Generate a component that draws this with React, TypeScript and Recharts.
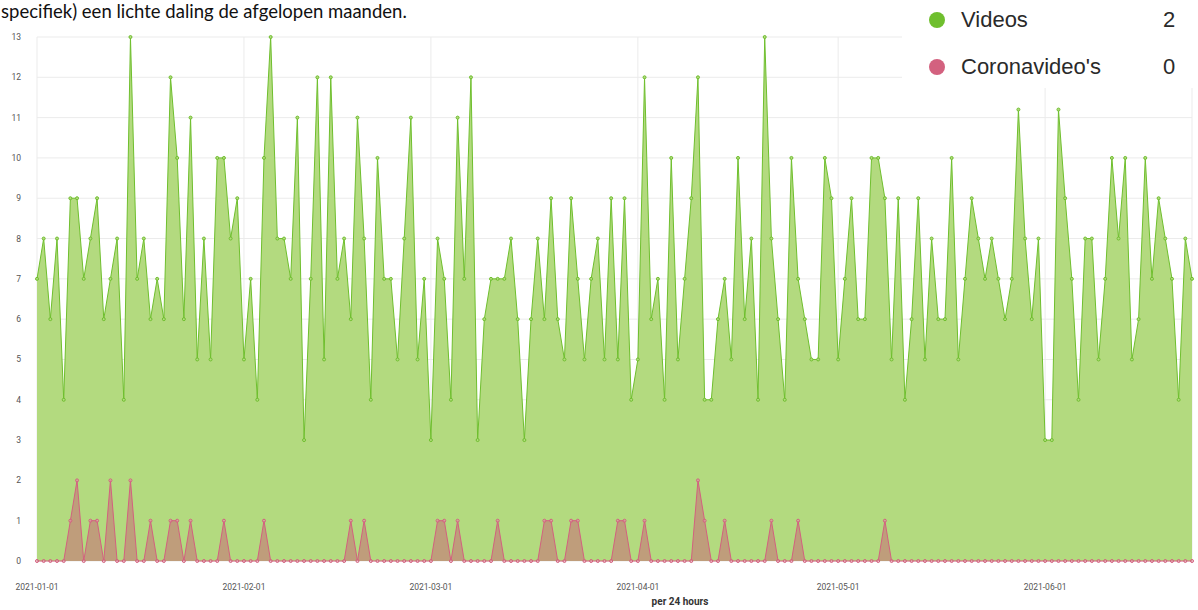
import React from "react";
import { AreaChart, Area, XAxis, YAxis, CartesianGrid } from "recharts";

// dagelijkse aantallen vanaf 2021-01-01
const videos = [
  7, 8, 6, 8, 4, 9, 9, 7, 8, 9,
  6, 7, 8, 4, 13, 7, 8, 6, 7, 6,
  12, 10, 6, 11, 5, 8, 5, 10, 10, 8,
  9, 5, 7, 4, 10, 13, 8, 8, 7, 11,
  3, 7, 12, 5, 12, 7, 8, 6, 11, 8,
  4, 10, 7, 7, 5, 8, 11, 5, 7, 3,
  8, 7, 4, 11, 7, 12, 3, 6, 7, 7,
  7, 8, 6, 3, 6, 8, 6, 9, 6, 5,
  9, 7, 5, 7, 8, 5, 9, 5, 9, 4,
  5, 12, 6, 7, 4, 10, 5, 7, 9, 12,
  4, 4, 6, 7, 5, 10, 6, 8, 4, 13,
  8, 6, 4, 10, 7, 6, 5, 5, 10, 9,
  5, 7, 9, 6, 6, 10, 10, 9, 5, 9,
  4, 6, 9, 5, 8, 6, 6, 10, 5, 7,
  9, 8, 7, 8, 7, 6, 7, 11.2, 8, 6,
  8, 3, 3, 11.2, 9, 7, 4, 8, 8, 5,
  7, 10, 8, 10, 5, 6, 10, 7, 9, 8,
  7, 4, 8, 7,
];

const coronaVideos = [
  0, 0, 0, 0, 0, 1, 2, 0, 1, 1,
  0, 2, 0, 0, 2, 0, 0, 1, 0, 0,
  1, 1, 0, 1, 0, 0, 0, 0, 1, 0,
  0, 0, 0, 0, 1, 0, 0, 0, 0, 0,
  0, 0, 0, 0, 0, 0, 0, 1, 0, 1,
  0, 0, 0, 0, 0, 0, 0, 0, 0, 0,
  1, 1, 0, 1, 0, 0, 0, 0, 0, 1,
  0, 0, 0, 0, 0, 0, 1, 1, 0, 0,
  1, 1, 0, 0, 0, 0, 0, 1, 1, 0,
  0, 1, 0, 0, 0, 0, 0, 0, 0, 2,
  1, 0, 0, 1, 0, 0, 0, 0, 0, 0,
  1, 0, 0, 0, 1, 0, 0, 0, 0, 0,
  0, 0, 0, 0, 0, 0, 0, 1, 0, 0,
  0, 0, 0, 0, 0, 0, 0, 0, 0, 0,
  0, 0, 0, 0, 0, 0, 0, 0, 0, 0,
  0, 0, 0, 0, 0, 0, 0, 0, 0, 0,
  0, 0, 0, 0, 0, 0, 0, 0, 0, 0,
  0, 0, 0, 0,
];

const monthTicks = [
  "2021-01-01",
  "2021-02-01",
  "2021-03-01",
  "2021-04-01",
  "2021-05-01",
  "2021-06-01",
];

const yTicks = [0, 1, 2, 3, 4, 5, 6, 7, 8, 9, 10, 11, 12, 13];

const dayLabel = (i: number) =>
  new Date(Date.UTC(2021, 0, 1 + i)).toISOString().slice(0, 10);

const data = videos.map((v, i) => ({
  date: dayLabel(i),
  videos: v,
  corona: coronaVideos[i],
}));

const GREEN = "#6fbf2e";
const PINK = "#d3617f";

export default function App() {
  return (
    <div
      style={{
        position: "absolute",
        left: 0,
        top: 0,
        width: 1198,
        height: 610,
        overflow: "hidden",
        background: "#fff",
        fontFamily: "Roboto, sans-serif",
      }}
    >
      <AreaChart
        width={1198}
        height={610}
        data={data}
        margin={{ top: 37, right: 6, bottom: 0, left: 0 }}
      >
        <CartesianGrid stroke="#ebebeb" strokeWidth={1} />
        <XAxis
          dataKey="date"
          ticks={monthTicks}
          interval={0}
          height={49}
          axisLine={false}
          tickLine={false}
          tickMargin={17}
          tick={{ fontSize: 8.5, fill: "#555" }}
        />
        <YAxis
          width={37}
          domain={[0, 13]}
          ticks={yTicks}
          interval={0}
          axisLine={false}
          tickLine={false}
          tick={{ fontSize: 8.5, fill: "#555", dx: -8 }}
        />
        <Area
          type="linear"
          dataKey="videos"
          stroke={GREEN}
          strokeWidth={1}
          fill="#b3da7f"
          fillOpacity={1}
          dot={{ r: 1.5, fill: "#b3da7f", stroke: GREEN, strokeWidth: 1 }}
          isAnimationActive={false}
        />
        <Area
          type="linear"
          dataKey="corona"
          stroke={PINK}
          strokeWidth={1}
          fill="#cc6078"
          fillOpacity={0.5}
          dot={{ r: 1.5, fill: "#e7a6b4", stroke: PINK, strokeWidth: 1 }}
          isAnimationActive={false}
        />
      </AreaChart>

      <div
        style={{
          position: "absolute",
          left: 1,
          top: 0,
          fontFamily: "Lato, sans-serif",
          fontSize: 18.5,
          lineHeight: "22px",
          color: "#111",
          whiteSpace: "nowrap",
        }}
      >
        specifiek) een lichte daling de afgelopen maanden.
      </div>

      <div
        style={{
          position: "absolute",
          left: 902,
          top: 0,
          width: 296,
          height: 88,
          background: "#fff",
          fontFamily: "'Liberation Sans', Arial, sans-serif",
          fontSize: 22,
          color: "#2a2a2a",
        }}
      >
        {[
          { name: "Videos", value: 2, color: GREEN, y: 20 },
          { name: "Coronavideo's", value: 0, color: PINK, y: 67 },
        ].map((row) => (
          <div key={row.name}>
            <div
              style={{
                position: "absolute",
                left: 27,
                top: row.y - 8,
                width: 16,
                height: 16,
                borderRadius: 8,
                background: row.color,
              }}
            />
            <div
              style={{
                position: "absolute",
                left: 59,
                top: row.y - 13,
                lineHeight: "26px",
                whiteSpace: "nowrap",
              }}
            >
              {row.name}
            </div>
            <div
              style={{
                position: "absolute",
                left: 261,
                top: row.y - 13,
                lineHeight: "26px",
              }}
            >
              {row.value}
            </div>
          </div>
        ))}
      </div>

      <div
        style={{
          position: "absolute",
          left: 630,
          top: 596,
          width: 100,
          textAlign: "center",
          fontSize: 10,
          fontWeight: 700,
          color: "#333",
          lineHeight: "12px",
        }}
      >
        per 24 hours
      </div>
    </div>
  );
}
